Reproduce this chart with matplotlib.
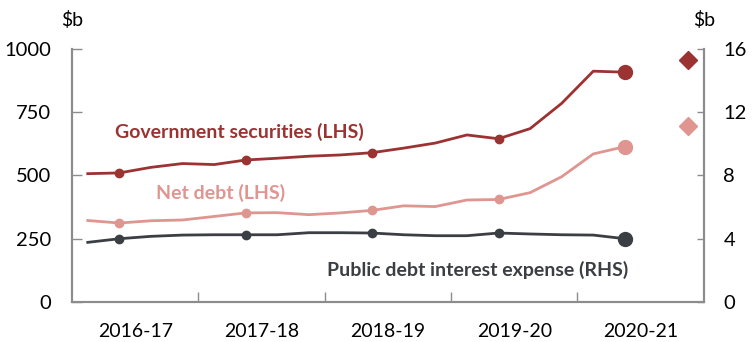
import matplotlib
matplotlib.use("Agg")
import matplotlib.pyplot as plt
import numpy as np

plt.rcParams["font.family"] = ["Lato", "DejaVu Sans"]

# Quarterly data, Sep-2016 quarter to Dec-2020 quarter
years = ["2016-17", "2017-18", "2018-19", "2019-20", "2020-21"]
gov_securities = [507, 510, 532, 547, 543, 561, 568, 576, 581, 590,
                  608, 628, 660, 645, 685, 785, 912, 908]
net_debt = [322, 312, 321, 324, 338, 352, 353, 345, 352, 362,
            380, 377, 403, 405, 432, 495, 585, 614]
interest_expense = [3.77, 4.0, 4.15, 4.23, 4.25, 4.25, 4.25, 4.38, 4.38, 4.36,
                    4.25, 4.19, 4.19, 4.36, 4.3, 4.25, 4.23, 4.0]
# Budget projections for 2020-21 (June quarter)
gov_securities_proj = 955
net_debt_proj = 697

C_GOV = "#9B3333"
C_NET = "#DF9590"
C_INT = "#3B3F43"
C_AXIS = "#8C8C8C"

n = len(gov_securities)
x = np.arange(n) + 0.5
marked = [1, 5, 9, 13]          # December quarters
x_proj = 19.5

fig = plt.figure(figsize=(7.52, 3.42), dpi=100)
ax = fig.add_axes([0.0957, 0.117, 0.8403, 0.74])
ax2 = ax.twinx()

ax.plot(x, gov_securities, color=C_GOV, lw=2.0, zorder=3)
ax.plot(x[marked], np.array(gov_securities)[marked], "o", color=C_GOV, ms=6, zorder=4)
ax.plot(x[-1], gov_securities[-1], "o", color=C_GOV, ms=10, zorder=4)
ax.plot(x_proj, gov_securities_proj, "D", color=C_GOV, ms=9, zorder=4)

ax.plot(x, net_debt, color=C_NET, lw=2.0, zorder=3)
ax.plot(x[marked], np.array(net_debt)[marked], "o", color=C_NET, ms=6, zorder=4)
ax.plot(x[-1], net_debt[-1], "o", color=C_NET, ms=10, zorder=4)
ax.plot(x_proj, net_debt_proj, "D", color=C_NET, ms=9, zorder=4)

ax2.plot(x, interest_expense, color=C_INT, lw=2.0, zorder=3)
ax2.plot(x[marked], np.array(interest_expense)[marked], "o", color=C_INT, ms=6, zorder=4)
ax2.plot(x[-1], interest_expense[-1], "o", color=C_INT, ms=10, zorder=4)

ax.set_xlim(0, 20)
ax.set_ylim(0, 1000)
ax2.set_ylim(0, 16)
ax.set_yticks([0, 250, 500, 750, 1000])
ax2.set_yticks([0, 4, 8, 12, 16])

ax.set_xticks([4, 8, 12, 16])
ax.set_xticklabels([])
ax.set_xticks([2, 6, 10, 14, 18], minor=True)
ax.set_xticklabels(years, minor=True)
ax.tick_params(axis="x", which="major", direction="in", length=7, color=C_AXIS, width=1)
ax.tick_params(axis="x", which="minor", length=0, pad=15, labelsize=14)
ax.tick_params(axis="y", direction="in", length=7, color=C_AXIS, width=1,
               labelsize=14.5, pad=15)
ax2.tick_params(axis="y", direction="in", length=5, color=C_AXIS, width=1,
                labelsize=14.5, pad=14)

for a in (ax, ax2):
    a.spines["top"].set_visible(False)
    for s in ("left", "right", "bottom"):
        a.spines[s].set_color(C_AXIS)
        a.spines[s].set_linewidth(1.5)

ax.text(0, 1.08, "$b", transform=ax.transAxes, ha="center", va="bottom", fontsize=14)
ax.text(1, 1.08, "$b", transform=ax.transAxes, ha="center", va="bottom", fontsize=14)

ax.text(5.3, 670, "Government securities (LHS)", color=C_GOV, fontsize=14,
        fontweight="bold", ha="center", va="center")
ax.text(4.7, 432, "Net debt (LHS)", color=C_NET, fontsize=14,
        fontweight="bold", ha="center", va="center")
ax2.text(12.85, 2.05, "Public debt interest expense (RHS)", color=C_INT, fontsize=14,
         fontweight="bold", ha="center", va="center")

fig.savefig("out.png", dpi=100, facecolor="white")
